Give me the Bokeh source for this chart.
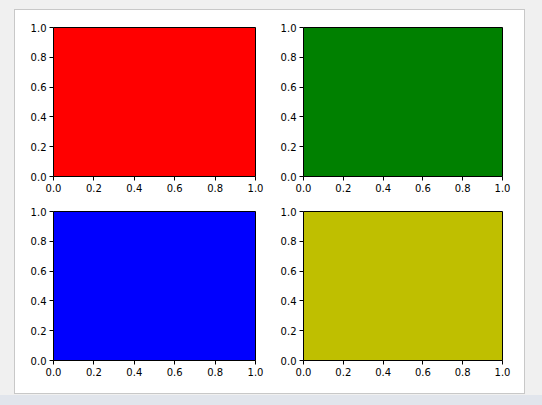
from bokeh.plotting import figure
from bokeh.models import Range1d, FixedTicker, PrintfTickFormatter, Spacer
from bokeh.layouts import gridplot, column, row
from bokeh.embed import file_html
from bokeh.resources import INLINE

# data
panel_colors = ["red", "green", "blue", "#bfbf00"]
ticks = [0.0, 0.2, 0.4, 0.6, 0.8, 1.0]
tick_format = "%.1f"
x_limits = (0.0, 1.0)
y_limits = (0.0, 1.0)

FRAME_W, FRAME_H = 202, 149
borders = [
    dict(min_border_left=38, min_border_right=22, min_border_top=17, min_border_bottom=20),
    dict(min_border_left=23, min_border_right=22, min_border_top=17, min_border_bottom=20),
    dict(min_border_left=38, min_border_right=22, min_border_top=15, min_border_bottom=33),
    dict(min_border_left=23, min_border_right=22, min_border_top=15, min_border_bottom=33),
]

figs = []
for color, b in zip(panel_colors, borders):
    w = b["min_border_left"] + FRAME_W + b["min_border_right"]
    h = b["min_border_top"] + FRAME_H + b["min_border_bottom"]
    p = figure(width=w, height=h, x_range=Range1d(*x_limits), y_range=Range1d(*y_limits),
               output_backend="svg", toolbar_location=None,
               background_fill_color=color, border_fill_color="white",
               outline_line_color="black", outline_line_width=1, outline_line_alpha=1.0,
               **b)
    p.grid.visible = False
    for ax in (p.xaxis[0], p.yaxis[0]):
        ax.ticker = FixedTicker(ticks=ticks)
        ax.formatter = PrintfTickFormatter(format=tick_format)
        ax.axis_line_color = None
        ax.major_tick_line_color = "black"
        ax.major_tick_line_width = 1
        ax.major_tick_out = 4
        ax.major_tick_in = 0
        ax.minor_tick_out = 0
        ax.minor_tick_in = 0
        ax.major_label_text_font = "DejaVu Sans"
        ax.major_label_text_font_size = "10px"
        ax.major_label_text_color = "black"
        ax.major_label_standoff = 3
    figs.append(p)

grid = gridplot([[figs[0], figs[1]], [figs[2], figs[3]]], toolbar_location=None)
panel = column(grid, styles={"border": "1px solid #c8c8c8", "background-color": "white"})

root = column(
    Spacer(width=542, height=9),
    row(Spacer(width=14, height=385), panel, Spacer(width=17, height=385)),
    Spacer(width=542, height=1),
    Spacer(width=542, height=10, styles={"background-color": "#e1e5ec"}),
    styles={"background-color": "#f0f0f0"},
)

open("out.html", "w").write(file_html(root, INLINE))
